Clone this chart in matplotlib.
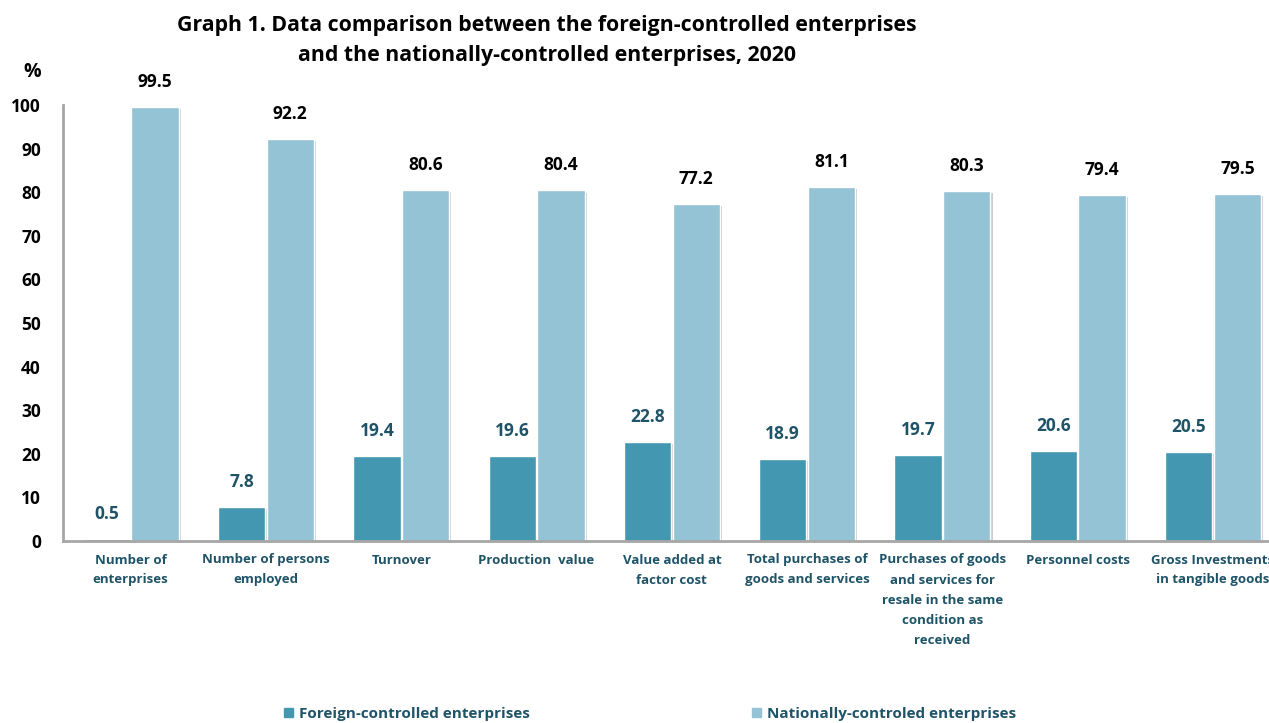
import numpy as np
import matplotlib.pyplot as plt
import matplotlib.patheffects as pe
from matplotlib.patches import Patch

plt.rcParams['font.family'] = ['Open Sans', 'DejaVu Sans']
plt.rcParams['font.weight'] = 'bold'

# datos
categorias = ["Number of\nenterprises", "Number of persons\nemployed", "Turnover",
              "Production  value", "Value added at\nfactor cost",
              "Total purchases of\ngoods and services",
              "Purchases of goods\nand services for\nresale in the same\ncondition as\nreceived",
              "Personnel costs", "Gross Investments\nin tangible goods"]
extranjeras = [0.5, 7.8, 19.4, 19.6, 22.8, 18.9, 19.7, 20.6, 20.5]
nacionales = [99.5, 92.2, 80.6, 80.4, 77.2, 81.1, 80.3, 79.4, 79.5]

col_ext = "#4397B0"
col_nac = "#93C3D5"
col_txt = "#1F5468"

fig = plt.figure(figsize=(12.69, 7.23), dpi=100)
ax = fig.add_axes([63 / 1269, (723 - 541) / 723, 1 - 63 / 1269, (541 - 105) / 723])

x = np.arange(len(categorias))
w = 0.35
sombra = [pe.SimplePatchShadow(offset=(1.5, -1.5), alpha=0.25), pe.Normal()]
ax.bar(x - 0.18, extranjeras, w, color=col_ext, edgecolor="white", linewidth=1,
       path_effects=sombra)
ax.bar(x + 0.18, nacionales, w, color=col_nac, edgecolor="white", linewidth=1,
       path_effects=sombra)

for xi, v in zip(x, extranjeras):
    ax.annotate(f"{v}", (xi - 0.18, v), xytext=(0, 18), textcoords="offset points",
                ha="center", va="center", fontsize=12.5, fontweight="bold", color=col_txt)
for xi, v in zip(x, nacionales):
    ax.annotate(f"{v}", (xi + 0.18, v), xytext=(0, 18), textcoords="offset points",
                ha="center", va="center", fontsize=12.5, fontweight="bold", color="black")

ax.set_xlim(-0.5, -0.5 + (1269 - 63) / 135.3)
ax.set_ylim(0, 100)
ax.set_yticks(range(0, 101, 10))
ax.tick_params(axis="y", length=0, pad=16, labelsize=12.5, labelcolor="black")
ax.set_xticks(x)
ax.set_xticklabels(categorias, fontsize=9.5, fontweight="bold", color=col_txt,
                   linespacing=1.7, va="top")
ax.tick_params(axis="x", length=0, pad=9)
for l in ax.get_yticklabels():
    l.set_fontweight("bold")

for s in ["top", "right"]:
    ax.spines[s].set_visible(False)
for s in ["left", "bottom"]:
    ax.spines[s].set_color("#A6A6A6")
    ax.spines[s].set_linewidth(2)

fig.text(547 / 1269, 1 - 25 / 723, "Graph 1. Data comparison between the foreign-controlled enterprises",
         ha="center", va="center", fontsize=15.3, fontweight="bold")
fig.text(547 / 1269, 1 - 55 / 723, "and the nationally-controlled enterprises, 2020",
         ha="center", va="center", fontsize=15.3, fontweight="bold")
fig.text(32 / 1269, 1 - 72 / 723, "%", ha="center", va="center", fontsize=14, fontweight="bold")

manejadores = [Patch(color=col_ext, label="Foreign-controlled enterprises"),
               Patch(color=col_nac, label="Nationally-controled enterprises")]
leg = fig.legend(handles=manejadores, loc="center", bbox_to_anchor=(650 / 1269, 1 - 714 / 723),
                 ncol=2, frameon=False, fontsize=11, columnspacing=14.5,
                 handlelength=0.6, handleheight=0.6, handletextpad=0.4)
for t in leg.get_texts():
    t.set_color(col_txt)
    t.set_fontweight("bold")

fig.savefig("out.png", dpi=100)
